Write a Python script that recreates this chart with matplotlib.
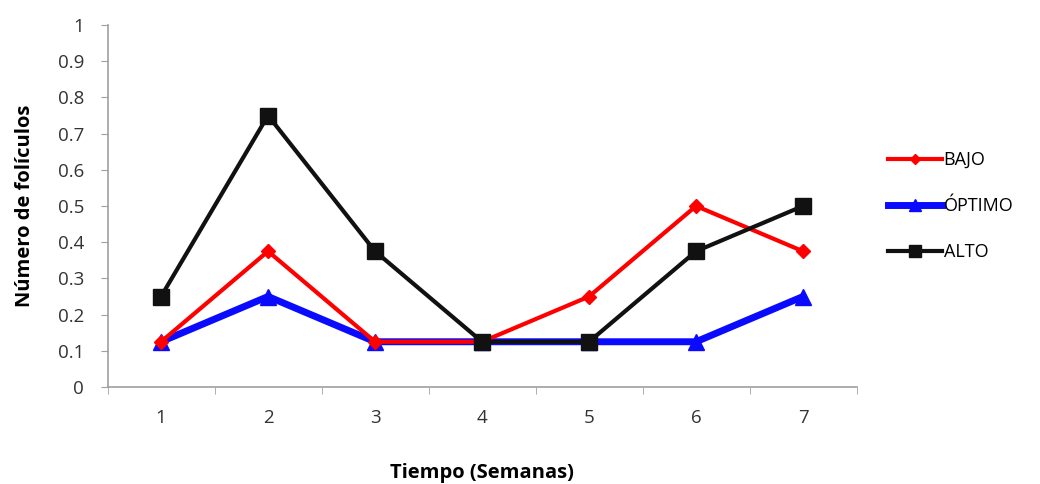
import numpy as np
import matplotlib.pyplot as plt

plt.rcParams['font.family'] = ['Open Sans', 'DejaVu Sans']

semanas = [1, 2, 3, 4, 5, 6, 7]
bajo = [0.125, 0.375, 0.125, 0.125, 0.25, 0.5, 0.375]
optimo = [0.125, 0.25, 0.125, 0.125, 0.125, 0.125, 0.25]
alto = [0.25, 0.75, 0.375, 0.125, 0.125, 0.375, 0.5]

fig = plt.figure(figsize=(10.4, 4.84), dpi=100)
ax = fig.add_axes([0.1034, 0.2004, 0.7202, 0.7479])

ax.plot(semanas, bajo, color='#ff0000', lw=3, marker='D', ms=7, label='BAJO', zorder=3)
ax.plot(semanas, optimo, color='#0a0aff', lw=5, marker='^', ms=11, label='ÓPTIMO', zorder=2)
ax.plot(semanas, alto, color='#111111', lw=3, marker='s', ms=11, label='ALTO', zorder=4)

ax.set_xlim(0.5, 7.5)
ax.set_ylim(0, 1)
ax.set_yticks(np.arange(0, 1.01, 0.1))
ax.set_yticklabels(['0', '0.1', '0.2', '0.3', '0.4', '0.5', '0.6', '0.7', '0.8', '0.9', '1'])
ax.set_xticks(semanas)
ax.set_xticks(np.arange(0.5, 7.6, 1), minor=True)
ax.tick_params(axis='x', which='major', length=0, pad=16)
ax.tick_params(axis='x', which='minor', length=5, color='#a0a0a0', direction='out')
ax.tick_params(axis='y', length=5, color='#a0a0a0', direction='out', pad=12)
ax.tick_params(labelsize=13.5, labelcolor='#333333')

for s in ['top', 'right']:
    ax.spines[s].set_visible(False)
for s in ['left', 'bottom']:
    ax.spines[s].set_color('#a0a0a0')
    ax.spines[s].set_linewidth(1.2)

ax.set_xlabel('Tiempo (Semanas)', fontsize=14.5, fontweight='bold', labelpad=26)
ax.set_ylabel('Número de folículos', fontsize=14.5, fontweight='bold', labelpad=16)

ax.legend(loc='center left', bbox_to_anchor=(1.02, 0.5), frameon=False, fontsize=13,
          handlelength=3.0, handletextpad=0.1, labelspacing=1.55, markerscale=0.75)

fig.savefig('out.png', dpi=100)
